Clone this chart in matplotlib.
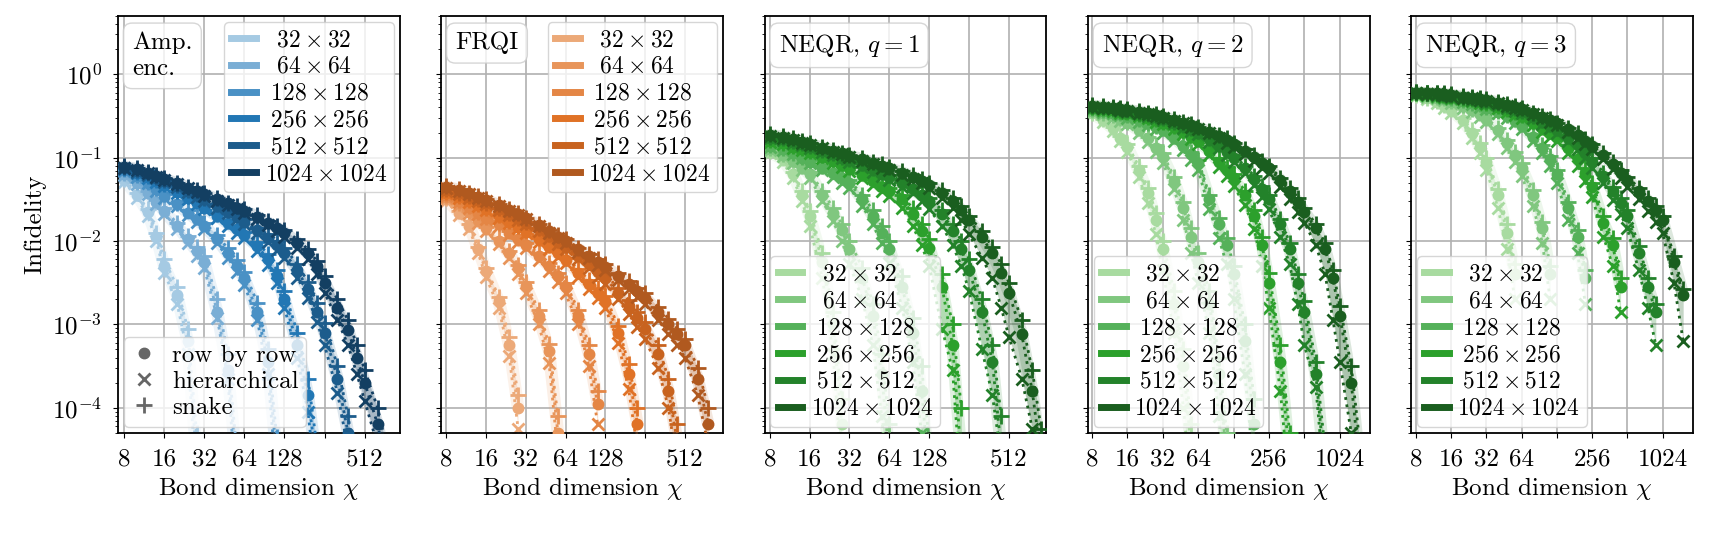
import numpy as np
import matplotlib
matplotlib.use('Agg')
import matplotlib.pyplot as plt
from matplotlib.lines import Line2D
from matplotlib.ticker import NullLocator

plt.rcParams.update({
    'font.family': 'serif',
    'font.serif': ['cmr10'],
    'mathtext.fontset': 'cm',
    'axes.formatter.use_mathtext': True,
    'font.size': 18,
    'axes.linewidth': 1.3,
    'xtick.major.pad': 8,
    'ytick.major.pad': 8,
})

# bond dimensions used for every curve (curves stop where the list of values stops)
CHI = [8, 10, 12, 14, 16, 20, 24, 28, 32, 40, 48, 56, 64, 80, 96, 112, 128, 160, 192, 224,
       256, 320, 384, 448, 512, 640, 768, 896, 1024, 1280, 1536, 1792]

size_labels = [r'$\hspace{0.57}32\times32\hspace{0.57}$', r'$\hspace{0.57}64\times64\hspace{0.57}$',
               r'$\hspace{0.28}128\times128\hspace{0.28}$', r'$\hspace{0.28}256\times256\hspace{0.28}$',
               r'$\hspace{0.28}512\times512\hspace{0.28}$', r'$1024\times1024$']

blues = ['#a5cae3', '#7aaed5', '#4a91c5', '#2277b4', '#1c5c8c', '#133f62']
oranges = ['#eca978', '#e8955a', '#e48645', '#e07226', '#c8631f', '#b0591f']
greens = ['#a8dba0', '#80c77f', '#55b15a', '#2ca02c', '#23822a', '#1a5e1f']

# log10(infidelity), one list per image size (32 .. 1024)
amp_row = [
    [-1.27, -1.45, -1.65, -1.95, -2.30, -2.65, -3.20, -4.60],
    [-1.20, -1.30, -1.42, -1.53, -1.64, -1.82, -1.98, -2.12, -2.25, -2.85, -3.55, -4.70],
    [-1.15, -1.22, -1.30, -1.38, -1.46, -1.56, -1.66, -1.74, -1.82, -1.98, -2.15, -2.30, -2.45, -2.85, -3.45, -4.60],
    [-1.13, -1.18, -1.23, -1.28, -1.33, -1.41, -1.48, -1.54, -1.60, -1.70, -1.79, -1.86, -1.93, -2.06, -2.22, -2.42,
     -2.70, -3.25, -3.85, -4.70],
    [-1.12, -1.16, -1.20, -1.24, -1.28, -1.34, -1.40, -1.45, -1.50, -1.58, -1.65, -1.71, -1.77, -1.87, -1.96, -2.05,
     -2.14, -2.35, -2.58, -2.85, -3.10, -3.65, -4.30, -5.00],
    [-1.11, -1.14, -1.18, -1.22, -1.26, -1.31, -1.36, -1.40, -1.44, -1.50, -1.55, -1.60, -1.64, -1.71, -1.78, -1.84,
     -1.90, -2.02, -2.15, -2.30, -2.50, -2.80, -3.07, -3.40, -3.70, -4.20, -4.80],
]
amp_hier = [
    [-1.29, -1.48, -1.70, -2.00, -2.38, -2.75, -3.35, -4.90],
    [-1.21, -1.32, -1.44, -1.56, -1.68, -1.86, -2.03, -2.18, -2.33, -2.92, -3.65, -5.00],
    [-1.16, -1.23, -1.31, -1.40, -1.48, -1.58, -1.69, -1.77, -1.86, -2.03, -2.20, -2.37, -2.53, -2.95, -3.60, -4.90],
    [-1.14, -1.19, -1.24, -1.29, -1.34, -1.42, -1.50, -1.56, -1.62, -1.73, -1.82, -1.90, -1.97, -2.12, -2.29, -2.50,
     -2.80, -3.40, -4.05, -5.00],
    [-1.13, -1.17, -1.21, -1.25, -1.29, -1.35, -1.41, -1.47, -1.52, -1.60, -1.67, -1.74, -1.80, -1.91, -2.01, -2.11,
     -2.21, -2.44, -2.68, -2.97, -3.25, -3.82, -4.50, -5.20],
    [-1.12, -1.15, -1.19, -1.23, -1.27, -1.32, -1.37, -1.41, -1.46, -1.52, -1.57, -1.62, -1.67, -1.74, -1.81, -1.88,
     -1.95, -2.08, -2.22, -2.40, -2.62, -2.95, -3.25, -3.60, -3.92, -4.45, -5.10],
]
amp_snake = [
    [-1.26, -1.43, -1.62, -1.90, -2.22, -2.55, -3.05, -4.30],
    [-1.19, -1.29, -1.40, -1.51, -1.61, -1.79, -1.94, -2.07, -2.18, -2.70, -3.35, -4.50],
    [-1.14, -1.21, -1.29, -1.36, -1.44, -1.54, -1.63, -1.71, -1.78, -1.93, -2.09, -2.23, -2.37, -2.74, -3.30, -4.35],
    [-1.12, -1.17, -1.22, -1.27, -1.32, -1.40, -1.46, -1.52, -1.58, -1.68, -1.76, -1.83, -1.89, -2.01, -2.16, -2.35,
     -2.60, -3.10, -3.65, -4.45],
    [-1.11, -1.15, -1.19, -1.23, -1.27, -1.33, -1.39, -1.44, -1.48, -1.56, -1.63, -1.68, -1.74, -1.84, -1.92, -2.00,
     -2.08, -2.28, -2.49, -2.74, -2.98, -3.50, -4.10, -4.75],
    [-1.10, -1.13, -1.17, -1.21, -1.25, -1.30, -1.35, -1.39, -1.43, -1.49, -1.54, -1.58, -1.62, -1.69, -1.76, -1.82,
     -1.87, -1.98, -2.10, -2.24, -2.42, -2.70, -2.95, -3.25, -3.55, -4.00, -4.55],
]

frqi_row = [
    [-1.50, -1.66, -1.82, -2.10, -2.36, -2.72, -3.25, -4.00],
    [-1.47, -1.55, -1.65, -1.75, -1.85, -2.00, -2.15, -2.33, -2.54, -2.90, -3.32, -4.30],
    [-1.45, -1.52, -1.59, -1.66, -1.72, -1.80, -1.90, -1.98, -2.05, -2.18, -2.30, -2.42, -2.55, -2.90, -3.35, -3.95],
    [-1.42, -1.47, -1.52, -1.57, -1.62, -1.70, -1.77, -1.83, -1.89, -1.98, -2.07, -2.15, -2.23, -2.38, -2.52, -2.62,
     -2.72, -3.10, -3.60, -4.20],
    [-1.39, -1.43, -1.47, -1.51, -1.55, -1.62, -1.68, -1.73, -1.78, -1.86, -1.94, -2.01, -2.07, -2.18, -2.28, -2.37,
     -2.45, -2.62, -2.78, -2.92, -3.05, -3.35, -3.80, -4.40],
    [-1.35, -1.39, -1.43, -1.47, -1.51, -1.57, -1.63, -1.68, -1.73, -1.81, -1.88, -1.95, -2.00, -2.10, -2.18, -2.25,
     -2.31, -2.42, -2.52, -2.60, -2.68, -2.85, -3.00, -3.12, -3.25, -3.65, -4.20],
]
frqi_hier = [
    [-1.52, -1.69, -1.86, -2.15, -2.43, -2.80, -3.38, -4.25],
    [-1.48, -1.57, -1.67, -1.78, -1.88, -2.04, -2.20, -2.40, -2.62, -3.00, -3.46, -4.55],
    [-1.46, -1.53, -1.60, -1.68, -1.74, -1.82, -1.93, -2.01, -2.09, -2.23, -2.36, -2.49, -2.63, -3.00, -3.50, -4.20],
    [-1.43, -1.48, -1.53, -1.58, -1.63, -1.72, -1.79, -1.85, -1.91, -2.01, -2.10, -2.19, -2.27, -2.43, -2.58, -2.69,
     -2.80, -3.22, -3.78, -4.50],
    [-1.40, -1.44, -1.48, -1.52, -1.56, -1.63, -1.69, -1.75, -1.80, -1.88, -1.96, -2.04, -2.10, -2.22, -2.33, -2.43,
     -2.52, -2.70, -2.88, -3.03, -3.18, -3.52, -4.00, -4.70],
    [-1.36, -1.40, -1.44, -1.48, -1.52, -1.58, -1.64, -1.69, -1.74, -1.82, -1.90, -1.97, -2.02, -2.13, -2.21, -2.29,
     -2.35, -2.47, -2.58, -2.67, -2.76, -2.95, -3.11, -3.25, -3.40, -3.85, -4.45],
]
frqi_snake = [
    [-1.49, -1.64, -1.80, -2.07, -2.32, -2.67, -3.15, -3.85],
    [-1.46, -1.54, -1.64, -1.74, -1.83, -1.97, -2.12, -2.29, -2.49, -2.83, -3.24, -4.10],
    [-1.44, -1.51, -1.58, -1.65, -1.71, -1.79, -1.88, -1.96, -2.03, -2.15, -2.26, -2.38, -2.50, -2.83, -3.25, -3.80],
    [-1.41, -1.46, -1.51, -1.56, -1.61, -1.69, -1.76, -1.82, -1.87, -1.96, -2.05, -2.12, -2.20, -2.34, -2.47, -2.57,
     -2.66, -3.02, -3.48, -4.00],
    [-1.38, -1.42, -1.46, -1.50, -1.54, -1.61, -1.67, -1.72, -1.77, -1.85, -1.92, -1.99, -2.05, -2.15, -2.25, -2.33,
     -2.40, -2.56, -2.71, -2.85, -2.97, -3.25, -3.65, -4.20],
    [-1.34, -1.38, -1.42, -1.46, -1.50, -1.56, -1.62, -1.67, -1.72, -1.80, -1.87, -1.93, -1.98, -2.08, -2.16, -2.22,
     -2.28, -2.39, -2.48, -2.56, -2.63, -2.79, -2.93, -3.05, -3.17, -3.52, -4.00],
]

q1_row = [
    [-0.93, -1.02, -1.20, -1.45, -1.70, -2.25, -3.00, -4.20],
    [-0.90, -0.97, -1.04, -1.12, -1.20, -1.45, -1.66, -1.87, -2.10, -2.45, -2.90, -3.60, -4.60],
    [-0.86, -0.90, -0.95, -1.00, -1.05, -1.12, -1.19, -1.25, -1.30, -1.50, -1.70, -1.90, -2.10, -2.55, -3.10, -3.80,
     -4.80],
    [-0.80, -0.83, -0.87, -0.90, -0.93, -0.99, -1.04, -1.09, -1.13, -1.21, -1.28, -1.35, -1.40, -1.50, -1.68, -1.88,
     -2.08, -2.55, -3.25, -4.60],
    [-0.76, -0.78, -0.81, -0.84, -0.87, -0.92, -0.96, -1.00, -1.03, -1.09, -1.14, -1.19, -1.23, -1.31, -1.38, -1.45,
     -1.52, -1.68, -1.88, -2.10, -2.35, -2.85, -3.45, -4.50],
    [-0.73, -0.75, -0.78, -0.81, -0.84, -0.88, -0.92, -0.95, -0.98, -1.02, -1.06, -1.10, -1.13, -1.18, -1.23, -1.28,
     -1.33, -1.42, -1.52, -1.63, -1.75, -1.95, -2.15, -2.38, -2.62, -3.12, -3.80, -4.60],
]
q1_hier = [
    [-0.94, -1.05, -1.25, -1.52, -1.82, -2.45, -3.35, -4.80],
    [-0.91, -0.98, -1.06, -1.15, -1.24, -1.52, -1.76, -2.00, -2.28, -2.70, -3.25, -4.10, -5.20],
    [-0.87, -0.91, -0.96, -1.01, -1.07, -1.15, -1.23, -1.30, -1.36, -1.58, -1.80, -2.03, -2.27, -2.80, -3.45, -4.30,
     -5.50],
    [-0.81, -0.84, -0.88, -0.91, -0.95, -1.01, -1.06, -1.11, -1.16, -1.25, -1.33, -1.40, -1.46, -1.60, -1.82, -2.05,
     -2.30, -3.05, -3.55, -5.00],
    [-0.77, -0.79, -0.82, -0.85, -0.88, -0.93, -0.97, -1.01, -1.05, -1.11, -1.17, -1.22, -1.27, -1.35, -1.43, -1.52,
     -1.62, -1.82, -2.05, -2.30, -2.60, -3.30, -3.85, -4.60],
    [-0.74, -0.76, -0.79, -0.82, -0.85, -0.89, -0.93, -0.96, -0.99, -1.04, -1.08, -1.12, -1.15, -1.21, -1.26, -1.31,
     -1.37, -1.48, -1.60, -1.75, -1.92, -2.20, -2.45, -2.80, -3.15, -3.65, -4.25, -5.00],
]
q1_snake = [
    [-0.92, -1.00, -1.17, -1.40, -1.64, -2.15, -2.85, -3.90],
    [-0.89, -0.96, -1.02, -1.10, -1.17, -1.40, -1.60, -1.80, -2.00, -2.32, -2.75, -3.35, -4.20],
    [-0.85, -0.89, -0.94, -0.99, -1.03, -1.10, -1.16, -1.22, -1.27, -1.45, -1.63, -1.82, -2.00, -2.42, -2.92, -3.50,
     -4.40],
    [-0.79, -0.82, -0.86, -0.89, -0.92, -0.97, -1.02, -1.07, -1.11, -1.18, -1.25, -1.31, -1.36, -1.45, -1.61, -1.80,
     -1.98, -2.40, -3.00, -4.00],
    [-0.75, -0.77, -0.80, -0.83, -0.86, -0.91, -0.95, -0.99, -1.02, -1.07, -1.12, -1.17, -1.21, -1.28, -1.35, -1.42,
     -1.48, -1.63, -1.80, -2.00, -2.22, -2.70, -3.25, -4.10],
    [-0.72, -0.74, -0.77, -0.80, -0.83, -0.87, -0.91, -0.94, -0.97, -1.01, -1.05, -1.08, -1.11, -1.16, -1.21, -1.26,
     -1.30, -1.39, -1.48, -1.58, -1.70, -1.88, -2.07, -2.28, -2.50, -2.95, -3.55, -4.25],
]

q2_row = [
    [-0.47, -0.55, -0.65, -0.76, -0.87, -1.15, -1.42, -1.75, -2.10, -2.75, -3.50, -4.50],
    [-0.44, -0.47, -0.50, -0.54, -0.58, -0.67, -0.77, -0.88, -0.99, -1.28, -1.60, -1.95, -2.25, -2.75, -3.60, -4.60],
    [-0.42, -0.44, -0.46, -0.48, -0.50, -0.55, -0.59, -0.63, -0.67, -0.76, -0.86, -0.96, -1.07, -1.50, -1.80, -2.05,
     -2.40, -3.20, -4.20],
    [-0.40, -0.42, -0.43, -0.45, -0.46, -0.49, -0.52, -0.55, -0.58, -0.63, -0.69, -0.75, -0.80, -0.92, -1.05, -1.15,
     -1.25, -1.45, -1.70, -2.05, -2.50, -3.45, -4.60],
    [-0.39, -0.40, -0.41, -0.43, -0.44, -0.47, -0.49, -0.51, -0.54, -0.58, -0.62, -0.66, -0.70, -0.78, -0.86, -0.93,
     -1.00, -1.13, -1.26, -1.38, -1.50, -1.80, -2.10, -2.50, -2.85, -3.60, -4.80],
    [-0.38, -0.39, -0.40, -0.42, -0.43, -0.45, -0.47, -0.49, -0.51, -0.55, -0.58, -0.61, -0.64, -0.69, -0.74, -0.79,
     -0.84, -0.92, -0.99, -1.06, -1.13, -1.27, -1.40, -1.53, -1.65, -1.85, -2.10, -2.45, -2.90, -3.70, -4.80],
]
q2_hier = [
    [-0.48, -0.57, -0.68, -0.80, -0.93, -1.23, -1.55, -1.92, -2.35, -3.10, -4.00, -5.00],
    [-0.45, -0.48, -0.52, -0.56, -0.60, -0.70, -0.81, -0.93, -1.06, -1.38, -1.75, -2.15, -2.50, -3.10, -4.10, -5.20],
    [-0.43, -0.45, -0.47, -0.49, -0.52, -0.57, -0.61, -0.66, -0.70, -0.80, -0.91, -1.03, -1.15, -1.62, -1.97, -2.28,
     -2.70, -3.60, -4.80],
    [-0.41, -0.43, -0.44, -0.46, -0.47, -0.50, -0.53, -0.57, -0.60, -0.66, -0.72, -0.78, -0.84, -0.97, -1.11, -1.22,
     -1.34, -1.57, -1.86, -2.30, -2.80, -3.80, -5.00],
    [-0.40, -0.41, -0.42, -0.44, -0.45, -0.48, -0.50, -0.52, -0.55, -0.59, -0.64, -0.68, -0.72, -0.81, -0.89, -0.97,
     -1.05, -1.19, -1.33, -1.47, -1.62, -1.95, -2.28, -2.75, -3.25, -3.75, -5.00],
    [-0.39, -0.40, -0.41, -0.43, -0.44, -0.46, -0.48, -0.50, -0.52, -0.56, -0.59, -0.63, -0.66, -0.71, -0.77, -0.82,
     -0.87, -0.96, -1.04, -1.12, -1.19, -1.35, -1.50, -1.65, -1.78, -2.05, -2.40, -2.95, -3.45, -4.30, -5.30],
]
q2_snake = [
    [-0.46, -0.54, -0.63, -0.74, -0.84, -1.10, -1.36, -1.66, -2.00, -2.60, -3.30, -4.20],
    [-0.43, -0.46, -0.49, -0.53, -0.57, -0.65, -0.75, -0.85, -0.95, -1.23, -1.53, -1.85, -2.15, -2.60, -3.40, -4.30],
    [-0.41, -0.43, -0.45, -0.47, -0.49, -0.54, -0.58, -0.62, -0.65, -0.74, -0.83, -0.93, -1.03, -1.45, -1.72, -1.97,
     -2.30, -3.00, -3.90],
    [-0.39, -0.41, -0.42, -0.44, -0.45, -0.48, -0.51, -0.54, -0.57, -0.62, -0.67, -0.73, -0.78, -0.89, -1.01, -1.11,
     -1.20, -1.40, -1.63, -1.95, -2.38, -3.25, -4.30],
    [-0.38, -0.39, -0.40, -0.42, -0.43, -0.46, -0.48, -0.50, -0.53, -0.57, -0.61, -0.65, -0.68, -0.76, -0.84, -0.91,
     -0.97, -1.10, -1.22, -1.34, -1.45, -1.74, -2.02, -2.40, -2.72, -3.45, -4.50],
    [-0.37, -0.38, -0.39, -0.41, -0.42, -0.44, -0.46, -0.48, -0.50, -0.54, -0.57, -0.60, -0.63, -0.68, -0.73, -0.77,
     -0.82, -0.90, -0.97, -1.04, -1.10, -1.24, -1.37, -1.49, -1.60, -1.80, -2.03, -2.35, -2.78, -3.50, -4.50],
]

q3_row = [
    [-0.25, -0.29, -0.33, -0.38, -0.43, -0.55, -0.70, -0.87, -1.05, -1.45, -1.90, -2.40],
    [-0.24, -0.26, -0.28, -0.30, -0.33, -0.38, -0.43, -0.48, -0.54, -0.67, -0.82, -0.97, -1.12, -1.45, -1.85, -2.40],
    [-0.23, -0.24, -0.26, -0.27, -0.29, -0.32, -0.35, -0.37, -0.40, -0.45, -0.50, -0.56, -0.62, -0.75, -0.88, -1.02,
     -1.20, -1.60, -1.95, -2.45],
    [-0.23, -0.24, -0.25, -0.26, -0.27, -0.29, -0.31, -0.33, -0.35, -0.39, -0.43, -0.47, -0.50, -0.58, -0.65, -0.70,
     -0.75, -0.88, -1.02, -1.18, -1.35, -1.78, -2.05, -2.55],
    [-0.22, -0.23, -0.24, -0.25, -0.26, -0.28, -0.30, -0.31, -0.33, -0.36, -0.39, -0.42, -0.45, -0.51, -0.57, -0.62,
     -0.67, -0.76, -0.85, -0.95, -1.05, -1.22, -1.40, -1.55, -1.70, -2.15, -2.55, -2.85],
    [-0.22, -0.23, -0.23, -0.24, -0.25, -0.27, -0.28, -0.30, -0.31, -0.34, -0.37, -0.39, -0.42, -0.47, -0.51, -0.55,
     -0.59, -0.66, -0.73, -0.80, -0.86, -0.97, -1.08, -1.18, -1.27, -1.40, -1.52, -1.63, -1.75, -2.25, -2.65],
]
q3_hier = [
    [-0.26, -0.30, -0.35, -0.40, -0.46, -0.59, -0.76, -0.95, -1.15, -1.60, -2.10, -2.70],
    [-0.25, -0.27, -0.29, -0.31, -0.34, -0.40, -0.45, -0.51, -0.57, -0.72, -0.88, -1.05, -1.22, -1.58, -2.02, -2.70],
    [-0.24, -0.25, -0.27, -0.28, -0.30, -0.33, -0.36, -0.39, -0.42, -0.47, -0.53, -0.59, -0.66, -0.80, -0.95, -1.10,
     -1.30, -1.75, -2.15, -2.75],
    [-0.24, -0.25, -0.26, -0.27, -0.28, -0.30, -0.32, -0.34, -0.36, -0.40, -0.45, -0.49, -0.53, -0.61, -0.69, -0.75,
     -0.80, -0.95, -1.10, -1.28, -1.47, -1.95, -2.30, -2.85],
    [-0.23, -0.24, -0.25, -0.26, -0.27, -0.29, -0.31, -0.32, -0.34, -0.37, -0.40, -0.44, -0.47, -0.53, -0.60, -0.65,
     -0.70, -0.80, -0.90, -1.01, -1.12, -1.31, -1.51, -1.68, -1.85, -2.35, -2.80, -3.25],
    [-0.23, -0.24, -0.24, -0.25, -0.26, -0.28, -0.29, -0.31, -0.32, -0.35, -0.38, -0.40, -0.43, -0.48, -0.53, -0.57,
     -0.61, -0.69, -0.76, -0.84, -0.90, -1.02, -1.14, -1.25, -1.35, -1.50, -1.64, -1.77, -1.90, -2.50, -3.20],
]
q3_snake = [
    [-0.25, -0.28, -0.32, -0.37, -0.42, -0.53, -0.67, -0.83, -1.00, -1.38, -1.80, -2.28],
    [-0.23, -0.25, -0.27, -0.29, -0.32, -0.37, -0.42, -0.47, -0.52, -0.65, -0.79, -0.93, -1.07, -1.39, -1.77, -2.30],
    [-0.22, -0.23, -0.25, -0.26, -0.28, -0.31, -0.34, -0.36, -0.39, -0.44, -0.49, -0.54, -0.60, -0.72, -0.85, -0.98,
     -1.15, -1.53, -1.87, -2.35],
    [-0.22, -0.23, -0.24, -0.25, -0.26, -0.28, -0.30, -0.32, -0.34, -0.38, -0.42, -0.45, -0.49, -0.56, -0.63, -0.68,
     -0.73, -0.85, -0.98, -1.13, -1.30, -1.70, -1.97, -2.45],
    [-0.21, -0.22, -0.23, -0.24, -0.25, -0.27, -0.29, -0.30, -0.32, -0.35, -0.38, -0.41, -0.44, -0.50, -0.55, -0.60,
     -0.65, -0.74, -0.83, -0.92, -1.01, -1.18, -1.35, -1.49, -1.63, -2.06, -2.45, -2.75],
    [-0.21, -0.22, -0.22, -0.23, -0.24, -0.26, -0.27, -0.29, -0.30, -0.33, -0.36, -0.38, -0.41, -0.46, -0.50, -0.54,
     -0.58, -0.65, -0.71, -0.78, -0.84, -0.94, -1.05, -1.15, -1.23, -1.36, -1.48, -1.58, -1.70, -2.18, -2.58],
]

panels = [
    ('Amp.\nenc.', blues, amp_row, amp_hier, amp_snake, (7.2, 940), 'upper right'),
    ('FRQI', oranges, frqi_row, frqi_hier, frqi_snake, (7.35, 995), 'upper right'),
    (r'NEQR, $q=1$', greens, q1_row, q1_hier, q1_snake, (7.3, 982), 'lower left'),
    (r'NEQR, $q=2$', greens, q2_row, q2_hier, q2_snake, (7.4, 1835), 'lower left'),
    (r'NEQR, $q=3$', greens, q3_row, q3_hier, q3_snake, (7.25, 1860), 'lower left'),
]

fig, axes = plt.subplots(1, 5, figsize=(17.1, 5.33), dpi=100, sharey=True)
fig.subplots_adjust(left=0.069, right=0.990, bottom=0.188, top=0.970, wspace=0.147)

for k, (ax, (name, cols, row, hier, snake, xl, loc)) in enumerate(zip(axes, panels)):
    for i in range(6):
        c = cols[i]
        n = min(len(row[i]), len(hier[i]), len(snake[i]))
        x = CHI[:n]
        lo = np.minimum.reduce([np.array(row[i][:n]), np.array(hier[i][:n]), np.array(snake[i][:n])])
        hi = np.maximum.reduce([np.array(row[i][:n]), np.array(hier[i][:n]), np.array(snake[i][:n])])
        ax.fill_between(x, 10 ** lo, 10 ** hi, color=c, alpha=0.25, lw=0, zorder=1 + i)
        # soft halo standing in for the spread band
        ax.plot(CHI[:len(row[i])], 10 ** np.array(row[i]), color=c, lw=9, alpha=0.15,
                solid_capstyle='round', zorder=1 + i)
        ax.plot(CHI[:len(row[i])], 10 ** np.array(row[i]), ls=':', lw=2, color=c,
                marker='o', ms=7.5, zorder=2 + i)
        ax.plot(CHI[:len(hier[i])], 10 ** np.array(hier[i]), ls=':', lw=2, color=c,
                marker='x', ms=9, mew=2, zorder=2 + i)
        ax.plot(CHI[:len(snake[i])], 10 ** np.array(snake[i]), ls=':', lw=2, color=c,
                marker='+', ms=11, mew=2, zorder=2 + i)

    ax.set_xscale('log', base=2)
    ax.set_yscale('log')
    ax.set_xlim(*xl)
    ax.set_ylim(5e-5, 5)
    if k < 3:
        ax.set_xticks([8, 16, 32, 64, 128, 256, 512])
        ax.set_xticklabels(['8', '16', '32', '64', '128', '', '512'])
    else:
        ax.set_xticks([8, 16, 32, 64, 128, 256, 512, 1024])
        ax.set_xticklabels(['8', '16', '32', '64', '', '256', '', '1024'])
    ax.xaxis.set_minor_locator(NullLocator())
    ax.grid(True, which='major', color='#b0b0b0', lw=1.2)
    ax.set_axisbelow(True)
    ax.set_xlabel(r'Bond dimension $\chi$', labelpad=3)

    handles = [Line2D([], [], color=cols[i], lw=5) for i in range(6)]
    leg = ax.legend(handles, size_labels, loc=loc, fontsize=17, handlelength=1.05, handletextpad=0.35,
                    borderaxespad=0.25, labelspacing=0.2, borderpad=0.3)
    leg.set_zorder(20)
    ax.text(0.05, 0.962, name, transform=ax.transAxes, ha='left', va='top', zorder=21,
            linespacing=1.2,
            bbox=dict(boxstyle='round,pad=0.35', fc='white', ec='#cccccc', alpha=0.8))

    if k == 0:
        ax.add_artist(leg)
        mk = [Line2D([], [], ls='none', marker='o', color='#666666', ms=7.5),
              Line2D([], [], ls='none', marker='x', color='#666666', ms=9, mew=2),
              Line2D([], [], ls='none', marker='+', color='#666666', ms=11, mew=2)]
        leg2 = ax.legend(mk, ['row by row', 'hierarchical', 'snake'], loc='lower left',
                         handlelength=1.0, handletextpad=0.6, borderaxespad=0.25, labelspacing=0.15,
                         borderpad=0.3)
        leg2.set_zorder(20)

axes[0].set_ylabel('Infidelity')

fig.savefig('out.png', dpi=100)
